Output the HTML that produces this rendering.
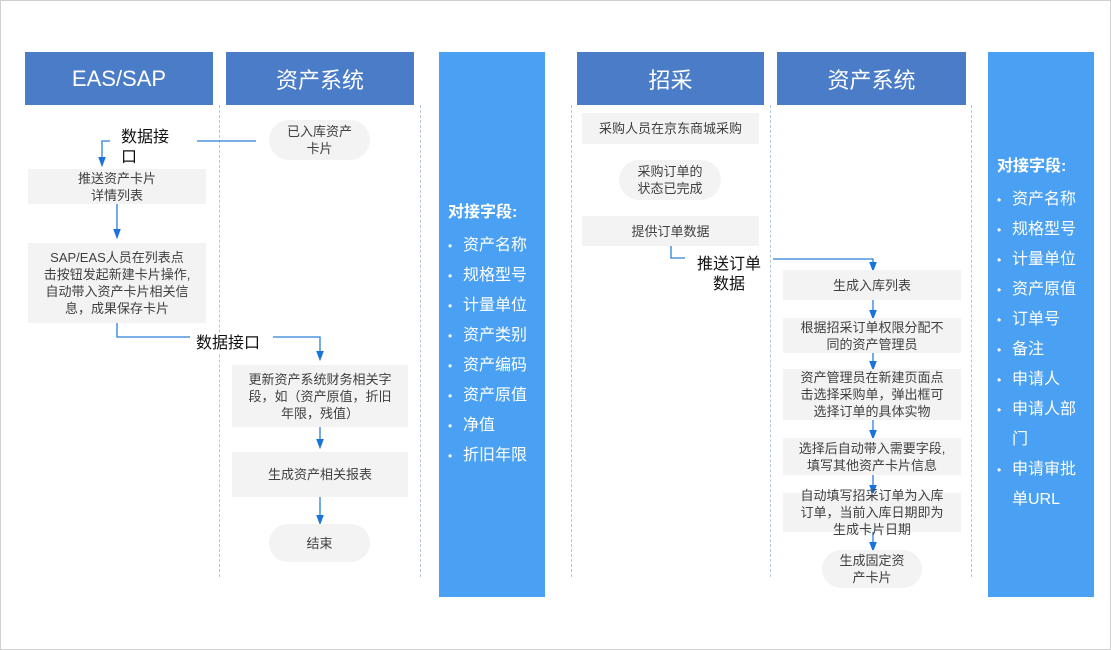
<!DOCTYPE html>
<html><head><meta charset="utf-8"><style>
*{margin:0;padding:0;box-sizing:border-box}
body{width:1111px;height:650px;background:#fff;position:relative;overflow:hidden;font-family:"Liberation Sans","Noto Sans CJK SC",sans-serif;color:#404040}
.frame{position:absolute;left:0;top:0;width:1111px;height:650px;border:1px solid #d0d0d0}
.hd{position:absolute;top:52px;height:53px;background:#4a7cc7;color:#fff;font-size:22px;display:flex;align-items:center;justify-content:center}
.pn{position:absolute;top:52px;height:545px;width:106px;background:#4aa0f2;color:#fff;font-size:16px;padding-left:9px}
.pn .t{font-weight:bold;margin-bottom:9px;font-size:16px}
.pn .i{line-height:30px;position:relative;padding-left:15px}
.pn .i:before{content:"•";position:absolute;left:0;font-size:12px}
.bx{position:absolute;background:#f3f3f3;font-size:13px;display:flex;align-items:center;justify-content:center;text-align:center;line-height:17px;color:#404040;white-space:nowrap}
.pl{border-radius:20px}
.dl{position:absolute;width:0;border-left:1px dashed #b8c6d8}
.lb{position:absolute;font-size:16px;color:#111;line-height:20px;background:#fff}
</style></head><body>
<div class="frame"></div>
<div class="hd" style="left:25px;width:188px">EAS/SAP</div>
<div class="hd" style="left:226px;width:188px">资产系统</div>
<div class="hd" style="left:577px;width:187px">招采</div>
<div class="hd" style="left:777px;width:189px">资产系统</div>
<div class="dl" style="left:219px;top:105px;height:472px"></div>
<div class="dl" style="left:420px;top:105px;height:472px"></div>
<div class="dl" style="left:571px;top:105px;height:472px"></div>
<div class="dl" style="left:770px;top:105px;height:472px"></div>
<div class="dl" style="left:971px;top:105px;height:472px"></div>

<div class="pn" style="left:439px;padding-top:146px">
<div class="t">对接字段:</div>
<div class="i">资产名称</div><div class="i">规格型号</div><div class="i">计量单位</div><div class="i">资产类别</div><div class="i">资产编码</div><div class="i">资产原值</div><div class="i">净值</div><div class="i">折旧年限</div>
</div>
<div class="pn" style="left:988px;padding-top:100px;padding-right:8px">
<div class="t">对接字段:</div>
<div class="i">资产名称</div><div class="i">规格型号</div><div class="i">计量单位</div><div class="i">资产原值</div><div class="i">订单号</div><div class="i">备注</div><div class="i">申请人</div><div class="i">申请人部门</div><div class="i">申请审批单URL</div>
</div>

<svg style="position:absolute;left:0;top:0" width="1111" height="650">
<defs><marker id="a" markerWidth="8" markerHeight="8" refX="4" refY="4" orient="auto"><path d="M0,1 L8,4 L0,7z" fill="#1a73d9"/></marker></defs>
<g stroke="#2a80de" stroke-width="1.3" fill="none">
<path d="M197,141 H256"/>
<path d="M110,141 H102 V162" marker-end="url(#a)"/>
<path d="M117,204 V234" marker-end="url(#a)"/>
<path d="M117,323 V337 H190"/>
<path d="M273,337 H320 V356" marker-end="url(#a)"/>
<path d="M320,427 V444" marker-end="url(#a)"/>
<path d="M320,497 V520" marker-end="url(#a)"/>
<path d="M671,246 V258 H685"/>
<path d="M773,259 H873 V267" marker-end="url(#a)"/>
<path d="M873,300 V315" marker-end="url(#a)"/>
<path d="M873,353 V366" marker-end="url(#a)"/>
<path d="M873,420 V435" marker-end="url(#a)"/>
<path d="M873,475 V490" marker-end="url(#a)"/>
<path d="M873,532 V547" marker-end="url(#a)"/>
</g></svg>

<div class="lb" style="left:121px;top:128px;width:60px">数据接<br>口</div>
<div class="lb" style="left:196px;top:334px">数据接口</div>
<div class="lb" style="left:695px;top:255px;text-align:center;width:68px">推送订单<br>数据</div>

<div class="bx pl" style="left:269px;top:120px;width:101px;height:40px">已入库资产<br>卡片</div>
<div class="bx" style="left:28px;top:169px;width:178px;height:35px">推送资产卡片<br>详情列表</div>
<div class="bx" style="left:28px;top:243px;width:178px;height:80px">SAP/EAS人员在列表点<br>击按钮发起新建卡片操作,<br>自动带入资产卡片相关信<br>息，成果保存卡片</div>
<div class="bx" style="left:232px;top:365px;width:176px;height:62px">更新资产系统财务相关字<br>段，如（资产原值，折旧<br>年限，残值）</div>
<div class="bx" style="left:232px;top:452px;width:176px;height:45px">生成资产相关报表</div>
<div class="bx pl" style="left:269px;top:524px;width:101px;height:38px">结束</div>

<div class="bx" style="left:582px;top:113px;width:177px;height:31px">采购人员在京东商城采购</div>
<div class="bx pl" style="left:619px;top:160px;width:102px;height:40px">采购订单的<br>状态已完成</div>
<div class="bx" style="left:582px;top:216px;width:177px;height:30px">提供订单数据</div>
<div class="bx" style="left:783px;top:270px;width:178px;height:30px">生成入库列表</div>
<div class="bx" style="left:783px;top:318px;width:178px;height:35px">根据招采订单权限分配不<br>同的资产管理员</div>
<div class="bx" style="left:783px;top:369px;width:178px;height:51px">资产管理员在新建页面点<br>击选择采购单，弹出框可<br>选择订单的具体实物</div>
<div class="bx" style="left:783px;top:438px;width:178px;height:37px">选择后自动带入需要字段,<br>填写其他资产卡片信息</div>
<div class="bx" style="left:783px;top:493px;width:178px;height:39px">自动填写招采订单为入库<br>订单，当前入库日期即为<br>生成卡片日期</div>
<div class="bx pl" style="left:822px;top:550px;width:100px;height:38px">生成固定资<br>产卡片</div>
</body></html>
